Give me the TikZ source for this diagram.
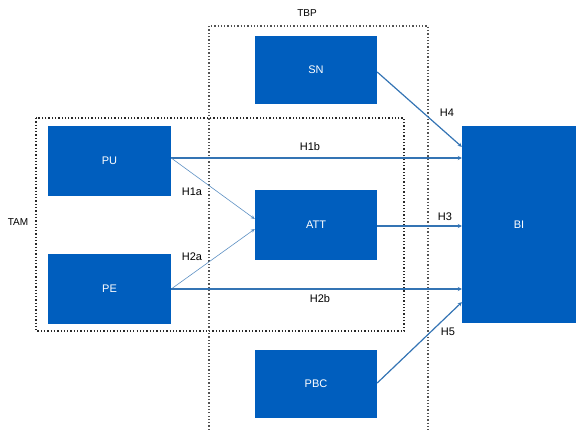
\documentclass[tikz,border=0pt]{standalone}
\usepackage{fontspec}
\setmainfont{Liberation Sans}
\usetikzlibrary{calc,arrows.meta}
\definecolor{boxblue}{RGB}{0,94,190}
\definecolor{linkblue}{RGB}{52,116,180}
\definecolor{frame}{RGB}{40,40,40}
\tikzset{
  construct/.style={fill=boxblue, draw=none, text=white, font=\fontsize{11}{13}\selectfont, inner sep=0pt},
  link/.style={draw=linkblue, line width=1.2pt, -{Stealth[length=4pt,width=4pt]}},
  thinlink/.style={draw=linkblue!80, line width=0.6pt, -{Stealth[length=4pt,width=3.5pt]}},
  hyp/.style={font=\fontsize{11}{13}\selectfont, text=black, inner sep=1pt},
  group/.style={draw=frame, line width=1.3pt, dotted},
  grouplabel/.style={font=\fontsize{10}{12}\selectfont, text=black, inner sep=1pt}
}
\begin{document}
\begin{tikzpicture}[x=1pt, y=-1pt]
\useasboundingbox (0,0) rectangle (576,430);

% model frames
\draw[group, line width=1.6pt] (36,118) rectangle (404,331);
\draw[group, draw=frame!80] (209,430) -- (209,26) -- (428,26) -- (428,430);
\node[grouplabel] (tam) at (18,222) {TAM};
\node[grouplabel] (tbp) at (307,13) {TBP};

% constructs
\node[construct, minimum width=122pt, minimum height=68pt] (sn)  at (316,70)  {SN};
\node[construct, minimum width=123pt, minimum height=70pt] (pu)  at (109.5,161) {PU};
\node[construct, minimum width=123pt, minimum height=70pt] (pe)  at (109.5,289) {PE};
\node[construct, minimum width=122pt, minimum height=70pt] (att) at (316,225) {ATT};
\node[construct, minimum width=122pt, minimum height=68pt] (pbc) at (316,384) {PBC};
\node[construct, minimum width=114pt, minimum height=197pt] (bi)  at (519,224.5) {BI};

% anchor points on the constructs
\coordinate (pu-out) at ($(pu.east)+(0,-3)$);
\coordinate (pe-out) at (pe.east);
\coordinate (att-in1) at ($(att.west)+(0,-6)$);
\coordinate (att-in2) at ($(att.west)+(0,4)$);
\coordinate (sn-out) at ($(sn.east)+(0,2)$);
\coordinate (pbc-out) at ($(pbc.east)+(0,-1)$);

% hypotheses
\draw[link] (sn-out) -- ($(bi.north west)+(0,21)$);
\draw[link] (pu-out) -- (bi.west |- pu-out);
\draw[thinlink] (pu-out) -- (att-in1);
\draw[thinlink] (pe-out) -- (att-in2);
\draw[link] (pe-out) -- (bi.west |- pe-out);
\draw[link] (att.east |- 0,226) -- (bi.west |- 0,226);
\draw[link] (pbc-out) -- ($(bi.south west)+(0,-21)$);

\node[hyp] (h1b) at (310,147) {H1b};
\node[hyp] (h1a) at (192,192) {H1a};
\node[hyp] (h2a) at (192,257) {H2a};
\node[hyp] (h2b) at (320,299) {H2b};
\node[hyp] (h3)  at (445,217) {H3};
\node[hyp] (h4)  at (447,113) {H4};
\node[hyp] (h5)  at (448,332) {H5};
\end{tikzpicture}
\end{document}
